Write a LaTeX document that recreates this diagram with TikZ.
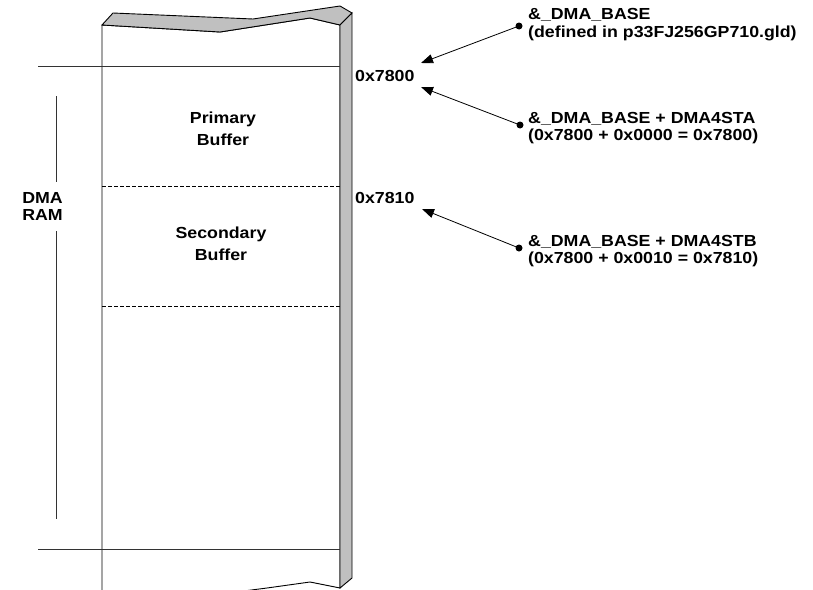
\documentclass[tikz,border=0pt]{standalone}
\usepackage{fontspec}
\setmainfont{Liberation Sans}[FakeStretch=1.11]
\usetikzlibrary{arrows.meta}
\definecolor{sidegray}{RGB}{192,192,192}
\tikzset{
  lbl/.style={font=\bfseries\fontsize{16}{17.5}\selectfont, inner sep=0pt},
  midlbl/.style={lbl, align=center, anchor=base},
  edge/.style={line width=0.9pt, draw=black},
  guide/.style={line width=1pt, draw=black!80},
  ptr/.style={line width=0.8pt, -{Triangle[length=12pt,width=9pt]}},
  pin/.style={circle, fill=black, inner sep=0pt, minimum size=7pt},
}
\begin{document}
\begin{tikzpicture}[x=1pt,y=-1pt]
\useasboundingbox (0,0) rectangle (813,589);
\clip (0,0) rectangle (813,589);

% front face of the memory block
\filldraw[edge, fill=white] (102,25) -- (220,32) -- (310,18) -- (340,25)
  -- (340,588) -- (310,582) -- (267,588) -- (220,594) -- (102,600) -- cycle;
% torn top face
\filldraw[edge, fill=sidegray] (102,25) -- (113,13) -- (253,19) -- (340,6)
  -- (352,13) -- (340,25) -- (310,18) -- (220,32) -- cycle;
% right side face
\filldraw[edge, fill=sidegray] (340,25) -- (352,13) -- (352,578) -- (340,588) -- cycle;

% region boundaries
\draw[guide] (38,66) -- (340,66);
\draw[guide] (38,549) -- (340,549);
\draw[line width=0.8pt, dash pattern=on 4pt off 2pt] (102,186) -- (340,186);
\draw[line width=0.8pt, dash pattern=on 4pt off 2pt] (102,306) -- (340,306);

% DMA RAM extent (multi-line nodes sit on their last baseline)
\node[lbl, align=center, anchor=base, font=\bfseries\fontsize{16}{17.5}\selectfont] (ram) at (42.5,220.5) {DMA\\RAM};
\coordinate (ramtop) at (56,96);
\coordinate (rambot) at (56,519);
\draw[guide] (ramtop) -- (56,182);
\draw[guide] (56,231) -- (rambot);

% buffers
\node[midlbl, font=\bfseries\fontsize{16}{22.5}\selectfont] (prim) at (223,145.5) {Primary\\Buffer};
\node[midlbl, font=\bfseries\fontsize{16}{22}\selectfont] (sec) at (221,260.5) {Secondary\\Buffer};

% addresses
\node[lbl, anchor=west] (a7800) at (355,75.5) {0x7800};
\node[lbl, anchor=west] (a7810) at (355,197.5) {0x7810};
\coordinate (t1) at (421,63);
\coordinate (t2) at (421,87);
\coordinate (t3) at (422,209);

% pointer descriptions
\node[pin] (p1) at (519,26) {};
\node[pin] (p2) at (520,125) {};
\node[pin] (p3) at (519,248) {};
\node[lbl, anchor=base west, align=left] (d1) at (528,37.5) {\&\_DMA\_BASE\\(defined in p33FJ256GP710.gld)};
\node[lbl, anchor=base west, align=left] (d2) at (528,140.5) {\&\_DMA\_BASE + DMA4STA\\(0x7800 + 0x0000 = 0x7800)};
\node[lbl, anchor=base west, align=left] (d3) at (528,263.5) {\&\_DMA\_BASE + DMA4STB\\(0x7800 + 0x0010 = 0x7810)};

\draw[ptr] (p1.center) -- (t1);
\draw[ptr] (p2.center) -- (t2);
\draw[ptr] (p3.center) -- (t3);
\end{tikzpicture}
\end{document}
